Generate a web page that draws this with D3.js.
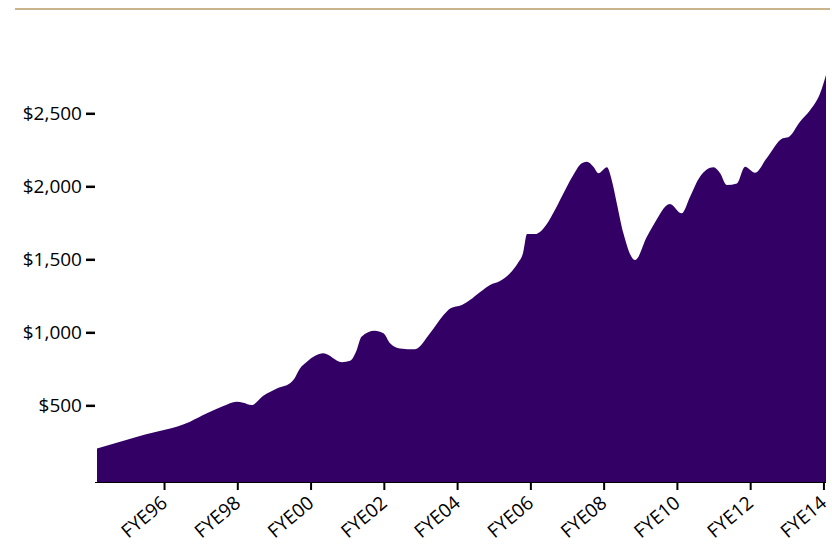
<!DOCTYPE html>
<html>
<head>
<meta charset="utf-8">
<script src="https://cdn.jsdelivr.net/npm/d3@7"></script>
<style>
  html, body { margin: 0; padding: 0; background: #fff; }
  svg { display: block; font-family: "Open Sans", "Noto Sans", sans-serif; }
</style>
</head>
<body>
<svg id="chart" width="832" height="544"></svg>
<script>
const years = [1994.17, 1995.34, 1996.71, 1997.17, 1997.62, 1997.98, 1998.16, 1998.39, 1998.70, 1999.08,
  1999.44, 1999.53, 1999.71, 1999.90, 2000.35, 2000.85, 2001.08, 2001.26, 2001.39, 2001.75,
  2001.99, 2002.17, 2002.44, 2002.85, 2003.26, 2003.63, 2003.81, 2004.13, 2004.35, 2004.63,
  2004.90, 2005.17, 2005.45, 2005.66, 2005.80, 2005.91, 2006.13, 2006.26, 2006.43, 2006.67,
  2006.95, 2007.22, 2007.36, 2007.54, 2007.72, 2007.86, 2008.09, 2008.22, 2008.36, 2008.54,
  2008.86, 2009.18, 2009.36, 2009.81, 2010.13, 2010.36, 2010.63, 2011.00, 2011.18, 2011.36,
  2011.64, 2011.86, 2012.13, 2012.45, 2012.89, 2013.04, 2013.36, 2013.64, 2013.91, 2014.07];
const values = [205, 290, 388, 445, 495, 525, 518, 502, 564, 616,
  651, 673, 753, 799, 856, 795, 805, 879, 970, 1011,
  993, 925, 890, 884, 993, 1118, 1164, 1187, 1221, 1276,
  1324, 1351, 1406, 1475, 1543, 1673, 1673, 1687, 1735, 1838,
  1975, 2098, 2150, 2168, 2134, 2089, 2130, 2043, 1883, 1678,
  1495, 1655, 1735, 1879, 1815, 1929, 2066, 2130, 2089, 2009,
  2020, 2134, 2093, 2192, 2329, 2336, 2442, 2522, 2637, 2762];
const xTickValues = [1996, 1998, 2000, 2002, 2004, 2006, 2008, 2010, 2012, 2014];
const xTickLabels = ["FYE96", "FYE98", "FYE00", "FYE02", "FYE04", "FYE06", "FYE08", "FYE10", "FYE12", "FYE14"];
const yTickValues = [500, 1000, 1500, 2000, 2500];
const yTickLabels = ["$500", "$1,000", "$1,500", "$2,000", "$2,500"];

const data = years.map((yr, i) => ({ yr, v: values[i] }));
const svg = d3.select("#chart");

// top rule
svg.append("line")
  .attr("x1", 15).attr("x2", 830).attr("y1", 9).attr("y2", 9)
  .attr("stroke", "#c9b48c").attr("stroke-width", 2);

const x = d3.scaleLinear().domain([1994.17, 2014.07]).range([97, 826]);
const y = d3.scaleLinear().domain([-25, 2500]).range([482, 113.3]);

const area = d3.area()
  .x(d => x(d.yr))
  .y0(y(-25))
  .y1(d => y(d.v))
  .curve(d3.curveMonotoneX);

svg.append("path")
  .datum(data)
  .attr("d", area)
  .attr("fill", "#330066");

// x axis
const xAxis = svg.append("g")
  .attr("transform", "translate(0,482)")
  .call(d3.axisBottom(x).tickValues(xTickValues).tickSize(8).tickSizeOuter(0)
    .tickFormat((d, i) => xTickLabels[i]));
xAxis.select(".domain").attr("stroke", "#000").attr("stroke-width", 1)
  .attr("d", "M95,0.5H826");
xAxis.selectAll(".tick line").attr("stroke", "#000").attr("stroke-width", 2);
xAxis.selectAll(".tick text")
  .attr("x", 0).attr("y", 0).attr("dy", 0)
  .attr("text-anchor", "end")
  .attr("transform", "translate(4,23) rotate(-40)")
  .attr("font-size", 19).attr("fill", "#000")
  .attr("font-family", "'Open Sans', 'Noto Sans', sans-serif");

// y axis
const yAxis = svg.append("g")
  .attr("transform", "translate(95,0)")
  .call(d3.axisLeft(y).tickValues(yTickValues).tickSize(9).tickPadding(4)
    .tickFormat((d, i) => yTickLabels[i]));
yAxis.select(".domain").remove();
yAxis.selectAll(".tick line").attr("stroke", "#000").attr("stroke-width", 2.5);
yAxis.selectAll(".tick text")
  .attr("font-size", 19).attr("fill", "#000")
  .attr("font-family", "'Open Sans', 'Noto Sans', sans-serif");
</script>
</body>
</html>
